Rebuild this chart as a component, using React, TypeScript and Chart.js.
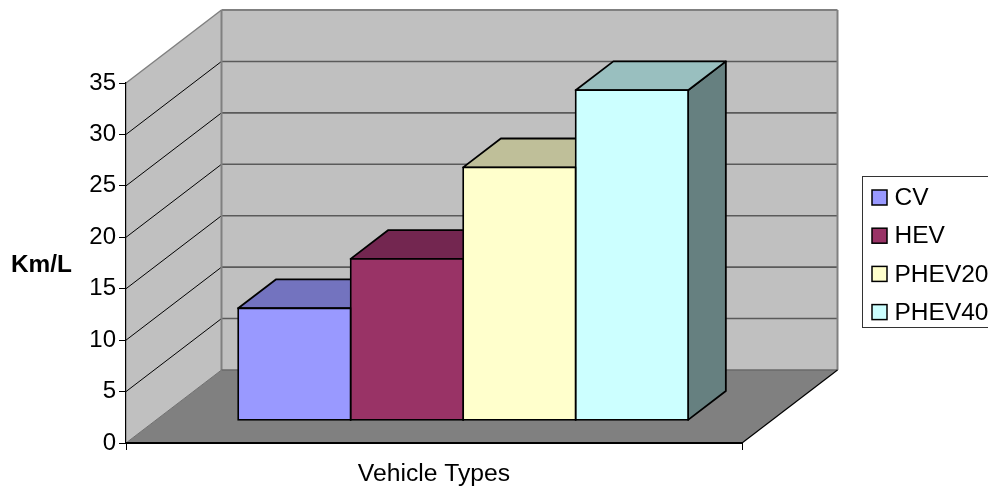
import React, { useEffect, useRef } from "react";
import { Chart, registerables } from "chart.js";

Chart.register(...registerables);

const categories = [""];
const seriesNames = ["CV", "HEV", "PHEV20", "PHEV40"];
const cvValues = [10.9];
const hevValues = [15.7];
const phev20Values = [24.6];
const phev40Values = [32.1];
const frontColors = ["#9999FF", "#993366", "#FFFFCC", "#CCFFFF"];
const topColors = ["#7373BF", "#732650", "#BFBF99", "#99BFBF"];
const sideColors = ["#4D4D80", "#4D1A33", "#808066", "#668080"];
const yTicks = { min: 0, max: 35, step: 5 };

const FONT = "'Liberation Sans', Arial, sans-serif";
// Oblique projection of the box: how far the back of the floor sits from the front axis.
const WALL_DX = 95.5;
const WALL_DY = -73;
// The bars stand about 31% of the way into the floor and reach 39% further back.
const BAR_NEAR = 0.305;
const BAR_DEPTH = 0.395;

const poly = (ctx: CanvasRenderingContext2D, pts: number[][], fill: string | null, stroke: string | null, lw = 1) => {
  ctx.beginPath();
  pts.forEach(([x, y], i) => (i ? ctx.lineTo(x, y) : ctx.moveTo(x, y)));
  ctx.closePath();
  if (fill) {
    ctx.fillStyle = fill;
    ctx.fill();
  }
  if (stroke) {
    ctx.strokeStyle = stroke;
    ctx.lineWidth = lw;
    ctx.stroke();
  }
};

const segment = (ctx: CanvasRenderingContext2D, x1: number, y1: number, x2: number, y2: number, color: string, lw: number) => {
  ctx.beginPath();
  ctx.moveTo(x1, y1);
  ctx.lineTo(x2, y2);
  ctx.strokeStyle = color;
  ctx.lineWidth = lw;
  ctx.stroke();
};

const box3d = {
  id: "box3d",
  beforeDatasetsDraw(chart: any) {
    const { ctx, chartArea: a, scales } = chart;
    const y = scales.y;
    const y0 = y.getPixelForValue(yTicks.min);
    const yMax = y.getPixelForValue(yTicks.max);
    const bx = a.left + WALL_DX;
    const brx = a.right + WALL_DX;
    ctx.save();
    // Walls and floor
    poly(ctx, [[a.left, y0], [bx, y0 + WALL_DY], [bx, yMax + WALL_DY], [a.left, yMax]], "#C0C0C0", null);
    poly(ctx, [[bx, y0 + WALL_DY], [brx, y0 + WALL_DY], [brx, yMax + WALL_DY], [bx, yMax + WALL_DY]], "#C0C0C0", null);
    poly(ctx, [[a.left, y0], [a.right, y0], [brx, y0 + WALL_DY], [bx, y0 + WALL_DY]], "#808080", null);
    // Gridlines on both walls
    for (let v = yTicks.min + yTicks.step; v < yTicks.max; v += yTicks.step) {
      const p = y.getPixelForValue(v);
      segment(ctx, a.left, p, bx, p + WALL_DY, "#000000", 1);
      segment(ctx, bx, p + WALL_DY, brx, p + WALL_DY, "#5A5A5A", 1.6);
    }
    // Wall outlines
    segment(ctx, a.left, yMax, bx, yMax + WALL_DY, "#808080", 1.5);
    segment(ctx, bx, yMax + WALL_DY, brx, yMax + WALL_DY, "#808080", 2);
    segment(ctx, bx, yMax + WALL_DY, bx, y0 + WALL_DY, "#808080", 2);
    segment(ctx, brx, yMax + WALL_DY, brx, y0 + WALL_DY, "#808080", 2);
    segment(ctx, bx, y0 + WALL_DY, brx, y0 + WALL_DY, "#6A6A6A", 1.5);
    segment(ctx, a.left, y0, bx, y0 + WALL_DY, "#707070", 1);
    segment(ctx, a.right, y0, brx, y0 + WALL_DY, "#000000", 1.2);

    // Side and top faces go down first, so that every front face covers what lies behind it.
    const shiftX = WALL_DX * BAR_NEAR;
    const shiftY = WALL_DY * 0.31;
    const ddx = WALL_DX * BAR_DEPTH;
    const ddy = WALL_DY * BAR_DEPTH;
    ctx.lineJoin = "round";
    chart.getSortedVisibleDatasetMetas().forEach((meta: any) => {
      const bar = meta.data[0];
      const { x, y: top, base, width } = bar.getProps(["x", "y", "base", "width"], true);
      const l = x - width / 2 + shiftX;
      const r = x + width / 2 + shiftX;
      const t = top + shiftY;
      const b = base + shiftY;
      poly(ctx, [[r, t], [r + ddx, t + ddy], [r + ddx, b + ddy], [r, b]], sideColors[meta.index], "#000000", 1.8);
      poly(ctx, [[l, t], [l + ddx, t + ddy], [r + ddx, t + ddy], [r, t]], topColors[meta.index], "#000000", 1.8);
    });
    ctx.restore();
    // Front faces are drawn by Chart.js on the same plane as the faces above.
    ctx.save();
    ctx.translate(shiftX, shiftY);
  },
  afterDatasetsDraw(chart: any) {
    chart.ctx.restore();
  },
  afterDraw(chart: any) {
    const { ctx } = chart;
    ctx.save();
    // Legend frame, running past the canvas edge
    ctx.strokeStyle = "#333333";
    ctx.lineWidth = 1;
    ctx.strokeRect(862.5, 176.5, 140, 151);
    // Legend rows
    ctx.font = `24.5px ${FONT}`;
    ctx.textAlign = "left";
    ctx.textBaseline = "middle";
    seriesNames.forEach((name, i) => {
      const cy = 197.5 + i * 38.2;
      ctx.fillStyle = frontColors[i];
      ctx.fillRect(872, cy - 7.5, 15, 15);
      ctx.strokeStyle = "#000000";
      ctx.lineWidth = 1.5;
      ctx.strokeRect(872, cy - 7.5, 15, 15);
      ctx.fillStyle = "#000000";
      ctx.fillText(name, 894.5, cy + 1);
    });
    // Horizontal value-axis title
    ctx.font = `bold 24.4px ${FONT}`;
    ctx.fillText("Km/L", 11, 265);
    ctx.restore();
  },
};

export default function App() {
  const ref = useRef<HTMLCanvasElement | null>(null);

  useEffect(() => {
    if (!ref.current) return;
    const series = [cvValues, hevValues, phev20Values, phev40Values];
    const chart = new Chart(ref.current, {
      type: "bar",
      data: {
        labels: categories,
        datasets: series.map((data, i) => ({
          label: seriesNames[i],
          data,
          backgroundColor: frontColors[i],
          borderColor: "#000000",
          borderWidth: 1.8,
          borderSkipped: false,
          inflateAmount: 0.9,
          clip: false as any,
          categoryPercentage: 0.7305,
          barPercentage: 1,
        })),
      },
      options: {
        responsive: false,
        animation: false,
        layout: { padding: { left: 0, top: 83, right: 246, bottom: 0 } },
        plugins: {
          tooltip: { enabled: false },
          legend: { display: false },
        },
        scales: {
          x: {
            offset: true,
            afterFit: (s: any) => {
              s.height = 44;
            },
            border: { color: "#000000", width: 2, z: 1 },
            grid: { drawOnChartArea: false, color: "#000000", tickColor: "#000000", tickLength: 7, offset: true, z: 1 },
            ticks: { padding: 0, font: { family: FONT, size: 1 } },
            title: {
              display: true,
              text: "Vehicle Types",
              color: "#000000",
              padding: 0,
              font: { family: FONT, size: 24.7, lineHeight: 1 },
            },
          },
          y: {
            min: yTicks.min,
            max: yTicks.max,
            afterFit: (s: any) => {
              s.width = 126;
            },
            border: { color: "#000000", width: 1.2, z: 1 },
            grid: { drawOnChartArea: false, tickColor: "#000000", tickLength: 7, z: 1 },
            ticks: { stepSize: yTicks.step, padding: 3, color: "#000000", font: { family: FONT, size: 24 } },
          },
        },
      },
      plugins: [box3d as any],
    });
    return () => chart.destroy();
  }, []);

  return (
    <div style={{ position: "fixed", left: 0, top: 0, width: 988, height: 487, overflow: "hidden", background: "#fff" }}>
      <canvas ref={ref} width={988} height={487} style={{ display: "block" }} />
    </div>
  );
}
